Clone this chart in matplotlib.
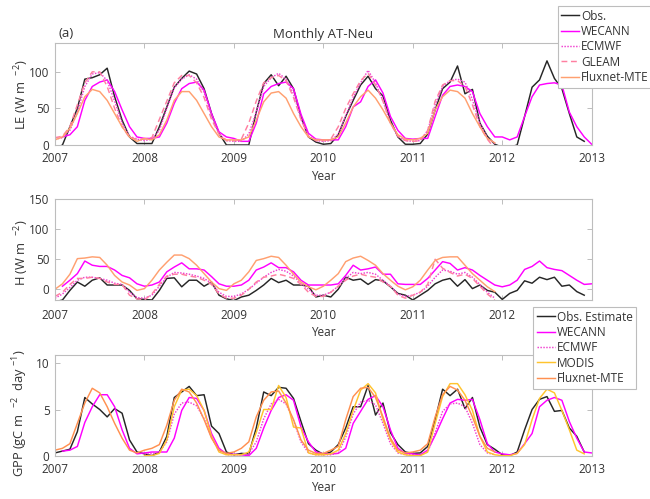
import numpy as np
import matplotlib
matplotlib.use('Agg')
import matplotlib.pyplot as plt

plt.rcParams['font.family'] = ['Open Sans', 'DejaVu Sans']
plt.rcParams['mathtext.default'] = 'regular'

nan = np.nan
# monthly time axis (Jan 2007 .. Dec 2012); WECANN is stamped one month later
months = 2007 + np.arange(72) / 12
months_w = months + 1 / 12

# ---------------- LE (W m-2) ----------------
le_obs = [-5, 0, 25, 50, 90, 92, 96, 105, 66, 34, 11, 2,
          2, 2, 25, 52, 79, 91, 101, 97, 77, 43, 16, 0,
          0, 0, 0, 45, 84, 96, 81, 94, 77, 39, 11, 4,
          1, 2, 14, 39, 61, 82, 94, 77, 67, 34, 11, 1,
          1, 2, 15, 48, 77, 86, 108, 70, 76, 30, 12, 1,
          -3, -3, 0, 39, 79, 89, 115, 91, 77, 43, 11, 5]
le_wecann = [11, 14, 25, 61, 80, 86, 89, 73, 48, 25, 11, 9,
             9, 11, 30, 57, 77, 84, 86, 75, 43, 18, 11, 9,
             5, 5, 30, 70, 80, 84, 86, 77, 42, 16, 8, 7,
             7, 7, 25, 52, 59, 80, 89, 71, 39, 20, 9, 8,
             9, 9, 39, 68, 80, 82, 80, 73, 43, 25, 11, 11,
             7, 11, 39, 66, 82, 84, 85, 82, 45, 25, 11, 1]
le_ecmwf = [8, 10, 20, 45, 80, 97, 99, 88, 60, 30, 12, 8,
            6, 8, 20, 50, 78, 90, 96, 90, 72, 40, 15, 6,
            5, 5, 15, 45, 80, 92, 98, 90, 70, 35, 12, 6,
            5, 6, 15, 40, 65, 85, 102, 85, 60, 30, 12, 6,
            5, 6, 20, 55, 80, 88, 90, 86, 62, 30, 10, 2]
le_gleam = [10, 12, 25, 55, 85, 100, 100, 80, 50, 25, 10, 8,
            8, 10, 35, 60, 85, 95, 95, 85, 65, 35, 15, 6,
            6, 8, 30, 60, 85, 92, 95, 88, 65, 35, 12, 6,
            6, 8, 25, 50, 70, 88, 98, 82, 60, 30, 12, 6,
            5, 6, 20, 60, 82, 88, 88, 80, 55, 25, 8, -5]
le_mte = [7, 11, 23, 43, 66, 76, 73, 61, 43, 25, 11, 5,
          9, 7, 14, 34, 61, 73, 73, 61, 43, 25, 11, 7,
          7, 7, 11, 34, 59, 71, 73, 64, 43, 25, 11, 7,
          7, 7, 11, 30, 52, 66, 75, 64, 48, 30, 14, 8,
          7, 9, 16, 48, 66, 75, 73, 64, 43, 25, 9, 3]

# ---------------- H (W m-2) ----------------
h_obs = [-21, -18, -2, 12, 5, 15, 19, 7, 7, 7, -2, -16,
         -17, -18, -2, 18, 19, 4, 15, 15, 5, 12, -10, -16,
         -19, -13, -10, -2, 7, 18, 11, 15, 7, 7, 5, -13,
         -10, -13, 0, 20, 15, 17, 8, 16, 14, 4, -7, -10,
         -18, -10, -2, 9, 15, 18, 5, 16, 1, 7, -2, -5,
         -17, -7, -2, 14, 10, 20, 16, 20, 5, 7, -4, -10]
h_wecann = [5, 15, 26, 47, 40, 38, 38, 32, 23, 19, 9, 5,
            7, 12, 29, 37, 44, 34, 34, 32, 21, 9, 5, 5,
            7, 15, 32, 37, 44, 36, 36, 29, 15, 7, 7, 7,
            7, 9, 23, 40, 32, 34, 37, 25, 25, 9, 8, 8,
            8, 18, 32, 46, 43, 32, 36, 32, 23, 15, 7, 4,
            7, 15, 33, 38, 47, 36, 33, 31, 23, 15, 8, 9]
h_ecmwf = [-15, -8, 3, 15, 20, 20, 18, 15, 10, 8, -5, -14,
           -15, -10, 5, 20, 28, 27, 25, 22, 18, 10, -5, -12,
           -12, -8, 0, 10, 20, 28, 33, 30, 22, 10, 0, -10,
           -10, -5, 5, 18, 28, 26, 28, 25, 15, 5, -8, -12,
           -10, -5, 5, 20, 32, 30, 25, 28, 20, 8, -5, -15]
h_gleam = [-12, -5, 8, 18, 18, 20, 18, 12, 8, 8, -10, -16,
           -18, -8, 8, 22, 25, 25, 22, 20, 15, 8, -8, -15,
           -15, -10, 0, 12, 20, 22, 25, 22, 18, 8, -5, -12,
           -12, -5, 5, 15, 22, 25, 22, 20, 12, 5, -10, -15,
           -10, -5, 8, 50, 35, 28, 22, 25, 18, 5, -8, -18]
h_mte = [0, 9, 25, 51, 52, 54, 53, 40, 23, 12, 7, -2,
         1, 15, 32, 45, 57, 57, 51, 40, 26, 12, 1, -2,
         9, 15, 29, 48, 51, 55, 53, 40, 25, 12, 4, -1,
         5, 15, 26, 46, 52, 55, 48, 40, 26, 15, 5, -1,
         4, 15, 32, 48, 53, 54, 54, 40, 26, 15, 4, -4]

# ---------------- GPP (gC m-2 day-1) ----------------
gpp_obs = [0.3, 0.5, 0.7, 2.6, 6.3, 5.6, 5.0, 4.2, 5.1, 4.6, 1.7, 0.4,
           0.2, 0.0, 0.4, 2.1, 6.3, 6.9, 7.5, 6.5, 6.6, 3.2, 2.4, 0.4,
           0.1, 0.25, 0.2, 3.0, 6.9, 6.5, 7.4, 7.3, 6.2, 3.7, 1.3, 0.6,
           0.15, 0.4, 1.2, 3.0, 5.3, 5.3, 7.6, 4.4, 5.7, 2.5, 1.2, 0.4,
           0.25, 0.3, 1.0, 3.9, 7.2, 6.5, 7.2, 5.1, 6.3, 3.1, 1.2, 0.7,
           0.1, 0.0, 0.4, 2.8, 5.0, 6.1, 6.4, 4.8, 4.9, 3.0, 2.1, 0.4]
gpp_wecann = [0.5, 0.6, 1.0, 3.6, 5.3, 6.6, 6.6, 5.3, 2.8, 0.8, 0.2, 0.3,
              0.4, 0.4, 0.4, 1.9, 4.9, 6.3, 6.2, 4.9, 2.4, 0.8, 0.2, 0.15,
              0.1, 0.0, 0.8, 3.0, 4.9, 6.3, 6.6, 6.0, 3.1, 1.5, 0.4, 0.2,
              0.2, 0.25, 0.8, 3.5, 4.8, 6.1, 6.5, 5.3, 2.8, 0.8, 0.25, 0.2,
              0.1, 0.6, 2.2, 4.0, 5.7, 6.1, 6.0, 6.1, 3.9, 1.3, 0.4, 0.2,
              0.1, 0.25, 1.3, 2.4, 5.3, 6.0, 6.3, 6.0, 3.7, 1.9, 0.4, 0.3]
gpp_ecmwf = [nan] * 12 + [
    0.2, 0.2, 0.4, 1.5, 4.5, 5.7, 5.8, 5.4, 4.0, 2.0, 0.5, 0.1,
    0.1, 0.1, 0.2, 1.5, 4.0, 5.6, 6.1, 5.6, 3.8, 1.5, 0.3, 0.1,
    0.1, 0.1, 0.3, 2.0, 4.5, 5.8, 6.0, 5.5, 3.5, 1.3, 0.3, 0.1,
    0.1, 0.1, 0.4, 2.5, 4.8, 5.6, 5.7, 5.3, 3.5, 1.2, 0.3, 0.1]
gpp_modis = [nan] * 12 + [
    0.0, 0.0, 0.25, 1.7, 5.3, 7.1, 7.2, 6.5, 4.9, 2.1, 0.4, 0.1,
    0.1, 0.1, 0.4, 2.5, 5.0, 5.0, 7.6, 6.3, 3.1, 3.0, 0.3, 0.1,
    0.1, 0.2, 0.6, 2.4, 4.9, 7.1, 7.8, 6.8, 3.9, 1.7, 0.4, 0.1,
    0.0, 0.0, 0.4, 3.5, 6.4, 7.8, 7.8, 6.6, 4.9, 2.1, 0.4, 0.1,
    0.0, 0.0, 0.25, 1.2, 3.9, 6.2, 7.2, 6.8, 4.9, 2.8, 0.6, 0.2]
gpp_mte = [0.6, 0.8, 1.3, 3.5, 5.7, 7.3, 6.8, 5.3, 3.5, 1.9, 0.6, 0.3,
           0.6, 0.8, 1.2, 3.3, 6.0, 7.2, 6.9, 5.7, 3.9, 1.9, 0.6, 0.25,
           0.4, 0.8, 1.5, 4.2, 6.0, 6.9, 7.0, 5.7, 3.9, 1.7, 0.6, 0.25,
           0.25, 0.6, 1.0, 3.9, 6.4, 7.3, 7.4, 6.3, 4.2, 1.9, 0.6, 0.3,
           0.4, 0.6, 1.3, 4.2, 6.6, 7.5, 7.1, 6.0, 4.2, 2.1, 0.8, 0.4]

year_ticks = [2007, 2008, 2009, 2010, 2011, 2012, 2013]

C_OBS = '#262626'
C_WEC = '#FF00FF'
C_ECM = '#F040D0'
C_GLE = '#FF7FA0'
C_MTE = '#FFA070'
C_MOD = '#FFC42E'
C_MTE_G = '#FF9050'
SPINE = '#BDBDBD'
TXT = '#333333'
LW = 1.05
FS = 8.5
LFS = 9.3

fig = plt.figure(figsize=(6.5, 4.99), dpi=100)
W, H = 650, 499
left, right = 55, 591.7


def make_ax(top, bottom, xpad=5):
    ax = fig.add_axes([left / W, 1 - bottom / H, (right - left) / W, (bottom - top) / H])
    for s in ax.spines.values():
        s.set_color(SPINE)
        s.set_linewidth(0.8)
    ax.tick_params(direction='in', top=True, right=True, length=3.5, width=0.7,
                   color=SPINE, labelcolor=TXT, labelsize=FS)
    ax.tick_params(axis='x', pad=xpad)
    ax.tick_params(axis='y', pad=4)
    ax.set_xlim(2007, 2013)
    ax.set_xticks(year_ticks)
    ax.set_xlabel('Year', fontsize=FS, color=TXT, labelpad=4)
    return ax


def legend(ax, x, y, handles_labels):
    hs, ls = zip(*handles_labels)
    lg = ax.legend(hs, ls, loc='upper left', bbox_to_anchor=(x / W, 1 - y / H),
                   bbox_transform=fig.transFigure, fontsize=FS, frameon=True,
                   fancybox=False, framealpha=1, edgecolor=SPINE, borderaxespad=0,
                   handlelength=1.55, handletextpad=0.12, labelspacing=0.2,
                   borderpad=0.3)
    lg.get_frame().set_linewidth(0.8)
    lg.set_zorder(20)
    for t in lg.get_texts():
        t.set_color(TXT)
    return lg


n5 = 60
# ---- LE panel ----
ax1 = make_ax(43.3, 145)
l_obs, = ax1.plot(months, le_obs, color=C_OBS, lw=LW)
l_wec, = ax1.plot(months_w, le_wecann, color=C_WEC, lw=LW)
l_ecm, = ax1.plot(months[:n5], le_ecmwf, color=C_ECM, lw=LW, ls=(0, (1, 1)))
l_gle, = ax1.plot(months[:n5], le_gleam, color=C_GLE, lw=LW, ls=(0, (4, 2.5)))
l_mte, = ax1.plot(months[:n5], le_mte, color=C_MTE, lw=LW)
ax1.set_ylim(0, 139)
ax1.set_yticks([0, 50, 100])
ax1.set_ylabel('LE (W m  $^{-2}$)', fontsize=LFS, color=TXT)
ax1.yaxis.set_label_coords(-0.045, 0.5)
ax1.set_title('Monthly AT-Neu', fontsize=9.5, color=TXT, pad=4)
ax1.text(0.007, 1.03, '(a)', transform=ax1.transAxes, fontsize=9.5, color=TXT,
         ha='left', va='bottom')
legend(ax1, 557.5, 6, [(l_obs, 'Obs.'), (l_wec, 'WECANN'), (l_ecm, 'ECMWF'),
                       (l_gle, 'GLEAM'), (l_mte, 'Fluxnet-MTE')])

# ---- H panel ----
ax2 = make_ax(199.3, 300, xpad=6.5)
ax2.plot(months, h_obs, color=C_OBS, lw=LW)
ax2.plot(months_w, h_wecann, color=C_WEC, lw=LW)
ax2.plot(months[:n5], h_ecmwf, color=C_ECM, lw=LW, ls=(0, (1, 1)))
ax2.plot(months[:n5], h_gleam, color=C_GLE, lw=LW, ls=(0, (4, 2.5)))
ax2.plot(months[:n5], h_mte, color=C_MTE, lw=LW)
ax2.set_ylim(-18, 150)
ax2.set_yticks([0, 50, 100, 150])
ax2.set_ylabel('H (W m  $^{-2}$)', fontsize=LFS, color=TXT)
ax2.yaxis.set_label_coords(-0.045, 0.47)
ax2.xaxis.labelpad = 2.5

# ---- GPP panel ----
ax3 = make_ax(355, 455.7)
g_obs, = ax3.plot(months, gpp_obs, color=C_OBS, lw=LW)
g_wec, = ax3.plot(months_w, gpp_wecann, color=C_WEC, lw=LW)
g_ecm, = ax3.plot(months[:n5], gpp_ecmwf, color=C_ECM, lw=LW, ls=(0, (1, 1)))
g_mod, = ax3.plot(months, gpp_modis, color=C_MOD, lw=LW)
g_mte, = ax3.plot(months[:n5], gpp_mte, color=C_MTE_G, lw=LW)
ax3.set_ylim(0, 10.9)
ax3.set_yticks([0, 5, 10])
ax3.set_ylabel('GPP (gC m  $^{-2}$  day $^{-1}$)', fontsize=LFS, color=TXT)
ax3.yaxis.set_label_coords(-0.047, 0.42)
legend(ax3, 533.3, 307, [(g_obs, 'Obs. Estimate'), (g_wec, 'WECANN'), (g_ecm, 'ECMWF'),
                         (g_mod, 'MODIS'), (g_mte, 'Fluxnet-MTE')])

fig.savefig('out.png', dpi=100)
